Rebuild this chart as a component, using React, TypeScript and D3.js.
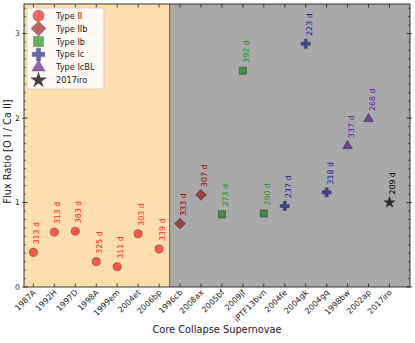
import React from "react";
import * as d3 from "d3";

// supernova names along the x axis
const names = [
  "1987A", "1992H", "1997D", "1998A", "1999em", "2004et", "2006bp",
  "1996cb", "2008ax", "2005bf", "2009jf", "iPTF13bvn", "2004fe",
  "2004gk", "2004gq", "1998bw", "2002ap", "2017iro",
];
// O I / Ca II flux ratio
const ratios = [
  0.41, 0.65, 0.66, 0.30, 0.24, 0.63, 0.45,
  0.75, 1.09, 0.86, 2.56, 0.87, 0.96,
  2.88, 1.12, 1.67, 1.99, 1.0,
];
const epochs = [
  "313 d", "313 d", "383 d", "325 d", "311 d", "303 d", "339 d",
  "333 d", "307 d", "273 d", "392 d", "290 d", "237 d",
  "223 d", "318 d", "337 d", "268 d", "209 d",
];
const types = [
  "II", "II", "II", "II", "II", "II", "II",
  "IIb", "IIb", "Ib", "Ib", "Ib", "Ic",
  "Ic", "Ic", "IcBL", "IcBL", "iro",
];
const legendLabels = ["Type II", "Type IIb", "Type Ib", "Type Ic", "Type IcBL", "2017iro"];
const legendKeys = ["II", "IIb", "Ib", "Ic", "IcBL", "iro"];
const yTicks = [0, 1, 2, 3];

type Style = { fill: string; text: string; symbol: d3.SymbolType; size: number; alpha: number; rot: number };
const style: Record<string, Style> = {
  II: { fill: "red", text: "#ff1a1a", symbol: d3.symbolCircle, size: 52, alpha: 0.6, rot: 0 },
  IIb: { fill: "#8b0000", text: "#a00000", symbol: d3.symbolSquare, size: 58, alpha: 0.6, rot: 45 },
  Ib: { fill: "green", text: "#1a9a1a", symbol: d3.symbolSquare, size: 52, alpha: 0.6, rot: 0 },
  Ic: { fill: "#00008b", text: "#1a1aa0", symbol: d3.symbolCross, size: 46, alpha: 0.6, rot: 0 },
  IcBL: { fill: "#4b0082", text: "#6a1aa8", symbol: d3.symbolTriangle, size: 40, alpha: 0.6, rot: 0 },
  iro: { fill: "black", text: "black", symbol: d3.symbolStar, size: 40, alpha: 0.75, rot: 0 },
};

const W = 415;
const H = 343;
const m = { left: 24, right: 410, top: 4, bottom: 287 };

export default function App() {
  const x = d3.scaleLinear().domain([-0.45, 17.98]).range([m.left, m.right]);
  const y = d3.scaleLinear().domain([0, 3.35]).range([m.bottom, m.top]);
  const minor = d3.range(0, 3.35, 0.1).filter((v) => Math.abs(v - Math.round(v)) > 0.01);
  const font = "DejaVu Sans, sans-serif";
  const split = x(6.5);

  return (
    <svg width={W} height={H} style={{ position: "absolute", left: 0, top: 0 }} fontFamily={font}>
      <rect x={m.left} y={m.top} width={split - m.left} height={m.bottom - m.top} fill="#ffdead" />
      <rect x={split} y={m.top} width={m.right - split} height={m.bottom - m.top} fill="#a9a9a9" />
      <line x1={split} x2={split} y1={m.top} y2={m.bottom} stroke="#707070" strokeWidth={1.2} />

      {/* ticks */}
      {names.map((n, i) => (
        <g key={n}>
          <line x1={x(i)} x2={x(i)} y1={m.bottom} y2={m.bottom - 3.5} stroke="#222" strokeWidth={0.8} />
          <line x1={x(i)} x2={x(i)} y1={m.top} y2={m.top + 3.5} stroke="#222" strokeWidth={0.8} />
          <text
            transform={`translate(${x(i) + 3},${m.bottom + 6}) rotate(-45)`}
            textAnchor="end"
            fontSize={8}
            fill="#222"
          >
            {n}
          </text>
        </g>
      ))}
      {yTicks.map((t) => (
        <g key={t}>
          <line x1={m.left - 2} x2={m.left + 3.5} y1={y(t)} y2={y(t)} stroke="#222" strokeWidth={0.8} />
          <line x1={m.right - 3.5} x2={m.right + 2} y1={y(t)} y2={y(t)} stroke="#222" strokeWidth={0.8} />
          <text x={m.left - 4} y={y(t) + 2.8} textAnchor="end" fontSize={7.8} fill="#222">
            {t}
          </text>
        </g>
      ))}
      {minor.map((t) => (
        <g key={t}>
          <line x1={m.left} x2={m.left + 2} y1={y(t)} y2={y(t)} stroke="#222" strokeWidth={0.6} />
          <line x1={m.right - 2} x2={m.right} y1={y(t)} y2={y(t)} stroke="#222" strokeWidth={0.6} />
        </g>
      ))}

      {/* data */}
      {ratios.map((r, i) => {
        const s = style[types[i]];
        const path = d3.symbol(s.symbol, s.size)() as string;
        return (
          <g key={names[i]}>
            <path
              d={path}
              transform={`translate(${x(i)},${y(r)}) rotate(${s.rot})`}
              fill={s.fill}
              fillOpacity={s.alpha}
              stroke="#333"
              strokeOpacity={0.7}
              strokeWidth={0.7}
            />
            <text
              transform={`translate(${x(i) + 6},${y(r) - 8}) rotate(-90)`}
              fontSize={7.8}
              fill={s.text}
            >
              {epochs[i]}
            </text>
          </g>
        );
      })}

      <rect
        x={m.left}
        y={m.top}
        width={m.right - m.left}
        height={m.bottom - m.top}
        fill="none"
        stroke="#222"
        strokeWidth={0.9}
      />

      {/* legend */}
      <rect x={27} y={8} width={77} height={81} rx={2} fill="white" fillOpacity={0.85} stroke="#ccc" strokeWidth={0.8} />
      {legendKeys.map((k, i) => {
        const s = style[k];
        const ly = 15.7 + i * 12.9;
        const path = d3.symbol(s.symbol, s.size * 1.9)() as string;
        return (
          <g key={k}>
            <path
              d={path}
              transform={`translate(38.5,${ly}) rotate(${s.rot})`}
              fill={s.fill}
              fillOpacity={s.alpha}
              stroke="#333"
              strokeOpacity={0.5}
              strokeWidth={0.6}
            />
            <text x={56} y={ly + 3} fontSize={8.2} fill="#222">
              {legendLabels[i]}
            </text>
          </g>
        );
      })}

      <text x={(m.left + m.right) / 2} y={333} textAnchor="middle" fontSize={9.8} fill="#222">
        Core Collapse Supernovae
      </text>
      <text
        transform={`translate(11,${(m.top + m.bottom) / 2 + 6}) rotate(-90)`}
        textAnchor="middle"
        fontSize={9.8}
        fill="#222"
      >
        Flux Ratio [O I / Ca II]
      </text>
    </svg>
  );
}
